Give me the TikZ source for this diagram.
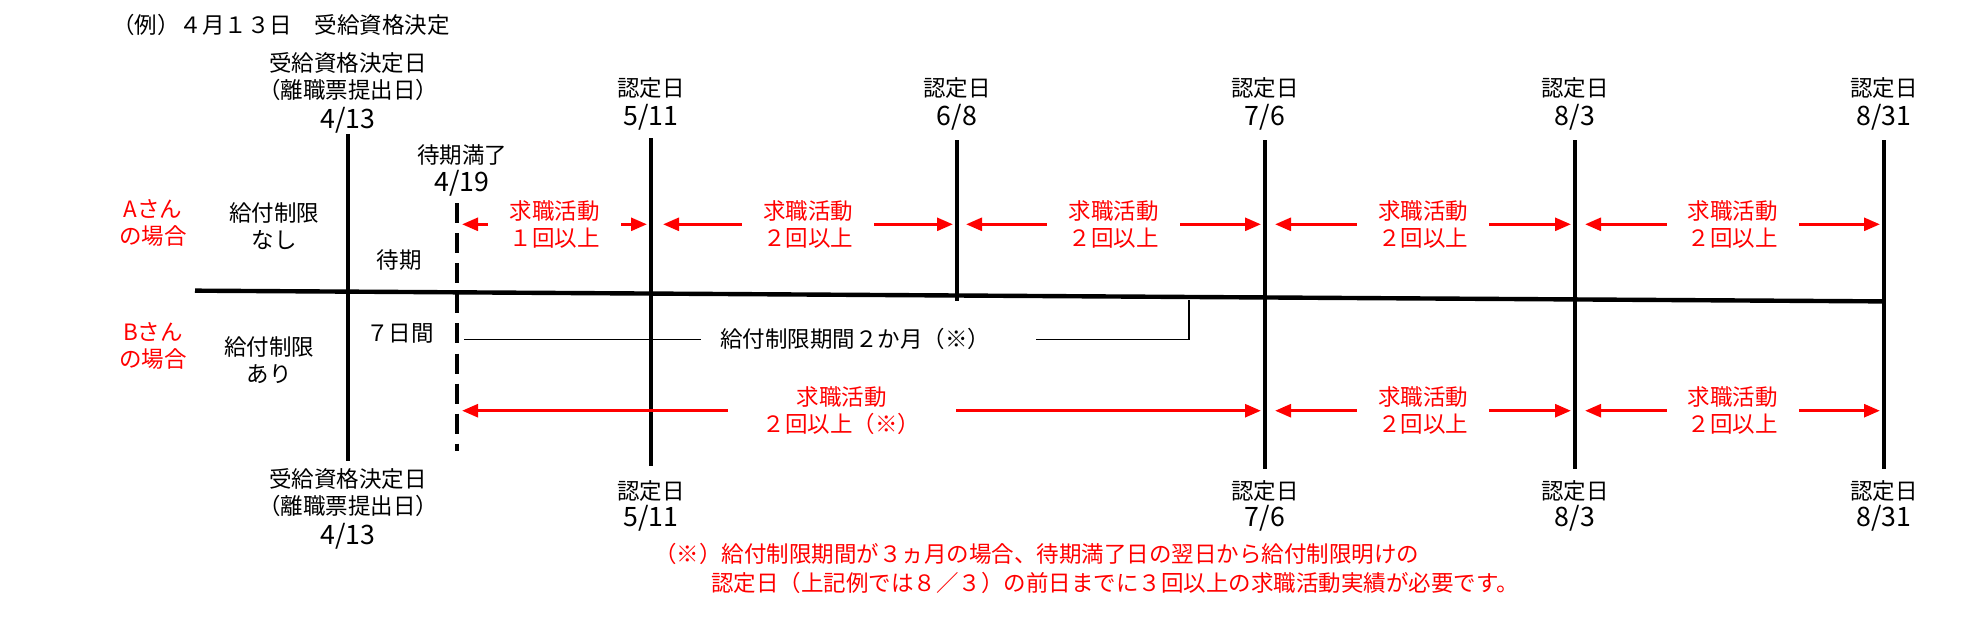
\documentclass[tikz,border=0pt]{standalone}
\usepackage{fontspec}
\setmainfont{Noto Sans CJK JP}
\usetikzlibrary{arrows.meta}
\definecolor{jred}{RGB}{255,0,0}
\tikzset{
  jp/.style={font=\fontsize{16}{19}\selectfont, align=center, inner sep=0pt},
  dt/.style={font=\fontsize{19}{21}\selectfont, inner sep=0pt},
  rj/.style={jp, text=jred},
  vline/.style={line width=0.11cm},
  mainline/.style={line width=0.11cm},
  thin/.style={line width=0.03cm},
  act/.style={draw=jred, line width=0.08cm, {Triangle[length=0.4cm,width=0.32cm]}-{Triangle[length=0.4cm,width=0.32cm]}},
  gap/.style={rj, fill=white, minimum width=3.3cm, minimum height=1.2cm},
}
\begin{document}
\begin{tikzpicture}[x=0.025cm,y=-0.0158cm]
\useasboundingbox (0,0) rectangle (1984,1000);
\node[jp, anchor=west] (title) at (112,40) {（例）４月１３日　受給資格決定};
% vertical lines
\coordinate (q1) at (348,212); \coordinate (q2) at (348,730);
\draw[vline] (q1) -- (q2);
\coordinate (w1) at (457,322); \coordinate (w2) at (457,714);
\draw[vline, dash pattern=on 0.5cm off 0.25cm] (w1) -- (w2);
\foreach \n/\x/\a/\b in {c1/651/219/738, c2/957/222/477, c3/1265/222/743, c4/1575/222/743, c5/1884/222/743}{
  \coordinate (\n t) at (\x,\a); \coordinate (\n b) at (\x,\b);
  \draw[vline] (\n t) -- (\n b);
}
% main line
\coordinate (m1) at (195,460); \coordinate (m2) at (1884,477);
\draw[mainline] (m1) -- (m2);
% top labels
\node[jp] (qa) at (348,99) {受給資格決定日};
\node[jp] (qb) at (348,142) {（離職票提出日）};
\node[dt] (qc) at (348,190) {4/13};
\node[jp] (wa) at (462,245) {待期満了};
\node[dt] (wb) at (462,290) {4/19};
\foreach \x/\d [count=\i] in {651/5\slash 11, 957/6\slash 8, 1265/7\slash 6, 1575/8\slash 3, 1884/8\slash 31}{
  \node[jp] (n\i) at (\x,139) {認定日};
  \node[dt] (d\i) at (\x,185) {\d};
}
% bottom labels
\node[jp] (qa2) at (348,758) {受給資格決定日};
\node[jp] (qb2) at (348,800) {（離職票提出日）};
\node[dt] (qc2) at (348,848) {4/13};
\foreach \x/\d [count=\i] in {651/5\slash 11, 1265/7\slash 6, 1575/8\slash 3, 1884/8\slash 31}{
  \node[jp] (bn\i) at (\x,777) {認定日};
  \node[dt] (bd\i) at (\x,821) {\d};
}
% left labels
\node[rj] (A) at (153,353) {Aさん\\の場合};
\node[jp] (An) at (274,358) {給付制限\\なし};
\node[jp] (tk) at (399,411) {待期};
\node[rj] (B) at (153,547) {Bさん\\の場合};
\node[jp] (Bn) at (269,570) {給付制限\\あり};
\node[jp] (nn) at (400,528) {７日間};
% restriction bracket
\node[jp] (rs) at (855,537) {給付制限期間２か月（※）};
\coordinate (r1) at (464,537); \coordinate (r2) at (701,537);
\coordinate (r3) at (1036,537); \coordinate (r4) at (1189,537); \coordinate (r5) at (1189,474);
\draw[thin] (r1) -- (r2);
\draw[thin] (r3) -- (r4) -- (r5);
% A arrows
\foreach \l/\r/\t [count=\i] in {462/647/１回以上, 663/953/２回以上, 966/1261/２回以上, 1275/1571/２回以上, 1585/1880/２回以上}{
  \coordinate (al\i) at (\l,355); \coordinate (ar\i) at (\r,355);
  \draw[act] (al\i) -- (ar\i) node[gap, midway] (at\i) {求職活動\\\t};
}
% B arrows
\coordinate (bl1) at (462,650); \coordinate (br1) at (1261,650);
\draw[act] (bl1) -- (br1) node[gap, pos=0.475, minimum width=5.7cm] (bt1) {求職活動\\２回以上（※）};
\foreach \l/\r [count=\i from 2] in {1275/1571, 1585/1880}{
  \coordinate (bl\i) at (\l,650); \coordinate (br\i) at (\r,650);
  \draw[act] (bl\i) -- (br\i) node[gap, midway] (bt\i) {求職活動\\２回以上};
}
% footnote
\node[rj, anchor=west] (f1) at (654,877) {（※）給付制限期間が３ヵ月の場合、待期満了日の翌日から給付制限明けの};
\node[rj, anchor=west] (f2) at (711,922) {認定日（上記例では８／３）の前日までに３回以上の求職活動実績が必要です。};
\end{tikzpicture}
\end{document}
